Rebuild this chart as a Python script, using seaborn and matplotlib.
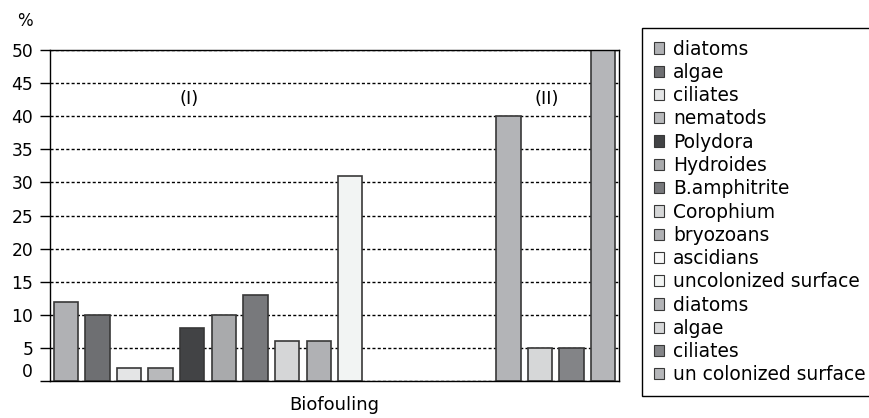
import matplotlib.pyplot as plt
import seaborn as sns
import pandas as pd
from matplotlib.patches import Patch

# group (I): legend order
labels_1 = ['diatoms', 'algae', 'ciliates', 'nematods', 'Polydora', 'Hydroides',
            'B.amphitrite', 'Corophium', 'bryozoans', 'ascidians', 'uncolonized surface']
values_1 = [12, 10, 2, 2, 8, 10, 13, 6, 6, 0, 31]
colors_1 = ['#b0b1b4', '#6e6f72', '#e4e5e6', '#b8b9bb', '#424345', '#a9aaac',
            '#78797c', '#d5d6d7', '#b0b1b4', '#f8f8f8', '#f2f4f3']

# group (II)
labels_2 = ['diatoms', 'algae', 'ciliates', 'un colonized surface']
values_2 = [40, 5, 5, 50]
colors_2 = ['#b3b4b7', '#d6d7d8', '#838487', '#b5b6b9']

# ascidians (0 %) sits in the last slot of group I, then 3 empty slots
bar_order_1 = [0, 1, 2, 3, 4, 5, 6, 7, 8, 10, 9]
n_gap = 3

rows = []
for i in bar_order_1:
    rows.append({'key': 'I ' + labels_1[i], 'value': values_1[i], 'color': colors_1[i]})
for lab, val, col in zip(labels_2, values_2, colors_2):
    rows.append({'key': 'II ' + lab, 'value': val, 'color': col})
df = pd.DataFrame(rows)

slot_order = list(df['key'][:len(bar_order_1)]) + [f'gap{k}' for k in range(n_gap)] \
    + list(df['key'][len(bar_order_1):])
palette = dict(zip(df['key'], df['color']))

sns.set_theme(style='white')
plt.rcParams['font.family'] = ['DejaVu Sans']
plt.rcParams['text.color'] = 'black'
plt.rcParams['axes.labelcolor'] = 'black'
plt.rcParams['xtick.color'] = 'black'
plt.rcParams['ytick.color'] = 'black'

fig = plt.figure(figsize=(8.7, 4.18), dpi=100)
ax = fig.add_axes([50 / 870, 1 - 381 / 418, 569 / 870, 331 / 418])

sns.barplot(data=df, x='key', y='value', hue='key', order=slot_order,
            palette=palette, legend=False, width=0.77,
            edgecolor='#383838', linewidth=1.2, saturation=1, ax=ax)

# a 0 % bar should not leave an outline on the axis
for p in ax.patches:
    if p.get_height() == 0:
        p.set_linewidth(0)

ax.set_ylim(0, 50)
ax.set_yticks(range(0, 51, 5))
ax.set_axisbelow(True)
ax.yaxis.grid(True, color='black', linestyle=(0, (2.2, 1.6)), linewidth=1.0)
ax.xaxis.grid(False)
ax.tick_params(axis='y', direction='out', length=7.2, width=1, color='black',
               labelsize=12.3, pad=5, left=True)
ax.tick_params(axis='x', length=0, labelbottom=False)
ax.get_yticklabels()[0].set_va('bottom')
for s in ax.spines.values():
    s.set_visible(True)
    s.set_color('black')
    s.set_linewidth(1.0)

ax.set_ylabel('')
ax.set_xlabel('Biofouling', fontsize=13, labelpad=11)

ax.text(3.9, 42.6, '(I)', fontsize=13, ha='center', va='center')
ax.text(15.2, 42.6, '(II)', fontsize=13, ha='center', va='center')
fig.text(25 / 870, 1 - 21 / 418, '%', fontsize=12, ha='center', va='center')

handles = [Patch(facecolor=c, edgecolor='#383838', linewidth=0.8) for c in colors_1 + colors_2]
leg = fig.legend(handles, labels_1 + labels_2, loc='upper left',
                 bbox_to_anchor=(642 / 870, 1 - 28 / 418), fontsize=13.4,
                 frameon=True, fancybox=False, edgecolor='black', framealpha=1,
                 handlelength=0.55, handleheight=0.55, handletextpad=0.5,
                 labelspacing=0.23, borderpad=0.62, borderaxespad=0)
leg.get_frame().set_linewidth(1.0)

fig.savefig('out.png', dpi=100)
plt.close(fig)
